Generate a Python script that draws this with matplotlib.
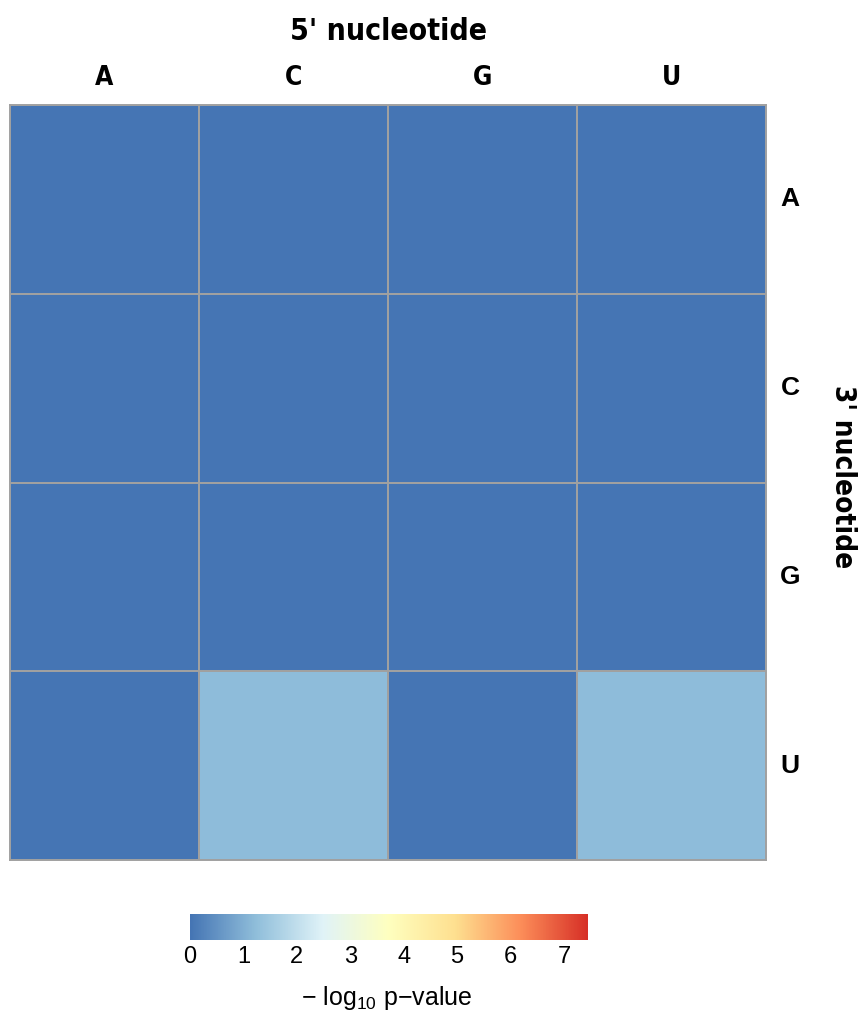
import numpy as np
import matplotlib
matplotlib.use("Agg")
import matplotlib.pyplot as plt
from matplotlib.colors import LinearSegmentedColormap
from matplotlib import font_manager

five_prime = ["A", "C", "G", "U"]
three_prime = ["A", "C", "G", "U"]
# rows: 3' nucleotide, cols: 5' nucleotide ; values = -log10 p-value
values = np.array([
    [0.0, 0.0, 0.0, 0.0],
    [0.0, 0.0, 0.0, 0.0],
    [0.0, 0.0, 0.0, 0.0],
    [0.0, 1.2, 0.0, 1.2],
])
vmin, vmax = 0.0, 7.45
cbar_ticks = [0, 1, 2, 3, 4, 5, 6, 7]

palette = ["#4575B4", "#91BFDB", "#E0F3F8", "#FFFFBF", "#FEE090", "#FC8D59", "#D73027"]
cmap = LinearSegmentedColormap.from_list("rdylbu7", palette, N=256)

plt.rcParams["mathtext.fontset"] = "custom"
plt.rcParams["mathtext.rm"] = "Liberation Sans"
plt.rcParams["mathtext.it"] = "Liberation Sans"


def wnum(w):
    if isinstance(w, (int, float)):
        return w
    return font_manager.weight_dict.get(str(w), 400)


# pick a condensed bold font with Helvetica-Condensed-like proportions
cond_file = None
for f in font_manager.fontManager.ttflist:
    if "DejaVuSansCondensed-Bold.ttf" in f.fname:
        cond_file = f.fname
        break
if cond_file is None:
    for name in ["Liberation Sans Narrow", "Roboto Condensed", "Barlow Semi Condensed"]:
        c = [f for f in font_manager.fontManager.ttflist
             if f.name == name and f.style == "normal" and 650 <= wnum(f.weight) <= 750]
        if c:
            cond_file = c[0].fname
            break
if cond_file:
    cond_prop = font_manager.FontProperties(fname=cond_file)
else:
    cond_prop = font_manager.FontProperties(family="Liberation Sans", weight="bold")

regular = ["Liberation Sans", "DejaVu Sans"]

fig = plt.figure(figsize=(8.64, 10.23), dpi=100)
W, H = 864, 1023

# size the condensed font so the title spans ~197 px like the reference
probe_fp = cond_prop.copy()
probe_fp.set_size(20)
probe = fig.text(0, 0, "5' nucleotide", fontproperties=probe_fp)
renderer = fig.canvas.get_renderer()
pw = probe.get_window_extent(renderer).width
probe.remove()
csize = 20 * 197.0 / pw


def ctext(x, y, s, transform, size, **kw):
    fp = cond_prop.copy()
    fp.set_size(size)
    return fig.text(x, y, s, fontproperties=fp, transform=transform, **kw)


ax = fig.add_axes([10 / W, 1 - 860 / H, 756 / W, 755 / H])
ax.pcolormesh(np.arange(5), np.arange(5), values, cmap=cmap, vmin=vmin, vmax=vmax,
              edgecolor="#a0a0a0", linewidth=1.4)
ax.set_xlim(0, 4)
ax.set_ylim(4, 0)
ax.set_xticks([])
ax.set_yticks([])
for s in ax.spines.values():
    s.set_edgecolor("#a0a0a0")
    s.set_linewidth(1.4)

for i, lab in enumerate(five_prime):
    ctext(i + 0.5, 1 + (105 - 78) / 755, lab, ax.get_xaxis_transform(), csize * 0.88,
          ha="center", va="center")
ctext(0.5, 1 + (105 - 31) / 755, "5' nucleotide", ax.transAxes, csize,
      ha="center", va="center")

for j, lab in enumerate(three_prime):
    ax.text(1 + (790 - 766) / 756, j + 0.5, lab, transform=ax.get_yaxis_transform(),
            ha="center", va="center", fontsize=19, fontweight="bold", family=regular)
ctext(843 / W, 1 - 477 / H, "3' nucleotide", fig.transFigure, csize * 0.93, rotation=270,
      ha="center", va="center")

cax = fig.add_axes([190 / W, 1 - 940 / H, 398 / W, 26 / H])
grad = np.linspace(vmin, vmax, 512).reshape(1, -1)
cax.imshow(grad, aspect="auto", cmap=cmap, vmin=vmin, vmax=vmax,
           extent=[vmin, vmax, 0, 1])
cax.set_xlim(vmin, vmax)
cax.set_yticks([])
cax.set_xticks(cbar_ticks)
cax.set_xticklabels([str(t) for t in cbar_ticks], family=regular, fontsize=17)
cax.tick_params(axis="x", length=0, pad=4)
for s in cax.spines.values():
    s.set_visible(False)
fig.text((190 + 197) / W, 1 - 998 / H, r"$-$ log$_{10}$ p$-$value", ha="center", va="center",
         fontsize=18, family=regular)

fig.savefig("out.png", dpi=100)
